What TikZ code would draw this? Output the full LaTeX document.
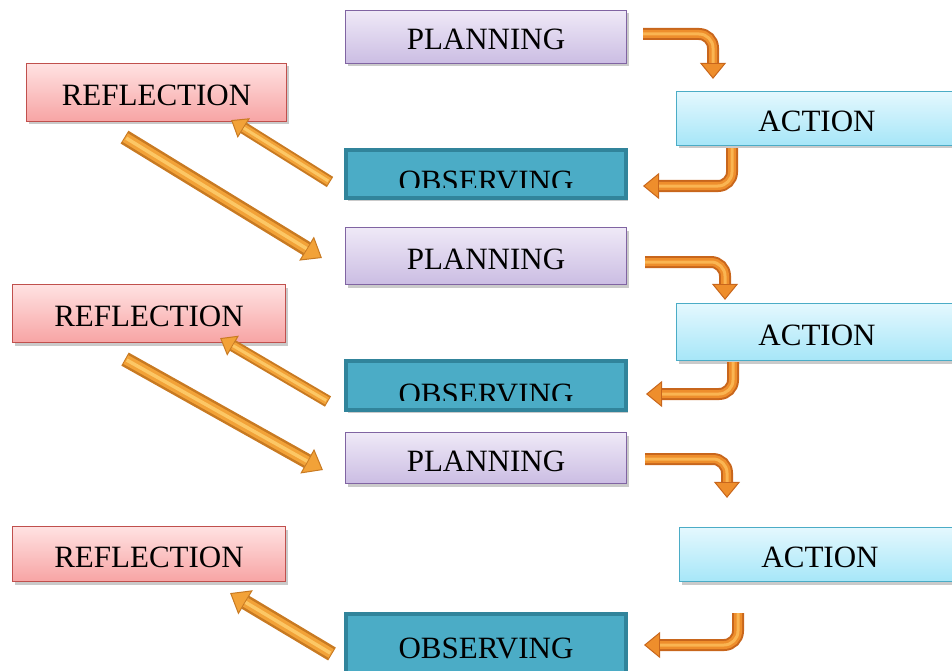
\documentclass[tikz,border=0pt]{standalone}
\usepackage{fontspec}
\setmainfont{Liberation Serif}
\usetikzlibrary{arrows.meta,shadows,calc}
\definecolor{plborder}{HTML}{8064A2}
\definecolor{pltop}{HTML}{EFE9F7}
\definecolor{plbot}{HTML}{CBBDE3}
\definecolor{rfborder}{HTML}{C0504D}
\definecolor{rftop}{HTML}{FFE2E2}
\definecolor{rfbot}{HTML}{F7A4A4}
\definecolor{acborder}{HTML}{4BACC6}
\definecolor{actop}{HTML}{E4F8FE}
\definecolor{acbot}{HTML}{A6E6F8}
\definecolor{obborder}{HTML}{31849B}
\definecolor{obfill}{HTML}{4BACC6}
\definecolor{arrdark}{HTML}{C8661C}
\definecolor{arrmid}{HTML}{EE8E2C}
\definecolor{arrlight}{HTML}{FAB552}
\definecolor{darrdark}{HTML}{C87A22}
\definecolor{darrmid}{HTML}{F2A238}
\definecolor{darrlight}{HTML}{FCC765}
\tikzset{
  boxtext/.style={font=\fontsize{31}{36}\selectfont, text=black, inner sep=0pt, text height=26pt, text depth=0pt},
  shadowed/.style={drop shadow={shadow xshift=2pt, shadow yshift=-3pt, opacity=0.35, fill=black!60}},
  pbox/.style={boxtext, shadowed, draw=plborder, line width=1.2pt, top color=pltop, bottom color=plbot, minimum width=281pt},
  rbox/.style={boxtext, shadowed, draw=rfborder, line width=1.2pt, top color=rftop, bottom color=rfbot},
  abox/.style={boxtext, shadowed, draw=acborder, line width=1.2pt, top color=actop, bottom color=acbot, minimum width=281pt},
  obox/.style={boxtext, shadowed, draw=obborder, line width=4pt, fill=obfill, minimum width=280pt},
  bentarr/.style={draw=arrdark, line width=12pt, rounded corners=14pt,
    -{Triangle[width=26pt,length=16pt,line width=1pt,fill=arrmid]},
    postaction={draw=arrmid, line width=8pt, -, shorten >=16pt, rounded corners=14pt},
    postaction={draw=arrlight, line width=3pt, -, shorten >=16pt, rounded corners=14pt}},
  diagarr/.style={draw=darrdark, line width=15pt,
    -{Triangle[width=28pt,length=18pt,line width=1pt,fill=darrmid]},
    postaction={draw=darrmid, line width=10pt, -, shorten >=18pt, shorten <=1pt},
    postaction={draw=darrlight, line width=3.5pt, -, shorten >=18pt, shorten <=2pt}},
  backarr/.style={draw=darrdark, line width=12pt,
    -{Triangle[width=23pt,length=15pt,line width=1pt,fill=darrmid]},
    postaction={draw=darrmid, line width=8pt, -, shorten >=15pt, shorten <=1pt},
    postaction={draw=darrlight, line width=3pt, -, shorten >=15pt, shorten <=2pt}}
}
\begin{document}
\begin{tikzpicture}[x=1pt,y=-1pt]
\useasboundingbox (0,0) rectangle (952,671);
% cycle 1
\node[pbox, minimum height=53pt] (p1) at (486,37) {PLANNING};
\node[abox, minimum height=54pt] (a1) at (817,118.5) {ACTION};
\node[obox, minimum height=48pt] (o1) at (486,174) {};
\node[rbox, minimum width=260pt, minimum height=58pt] (r1) at (156.5,92.5) {REFLECTION};
\begin{scope}
  \clip (344,150) rectangle (628,187);
  \node[font=\fontsize{31}{36}\selectfont, inner sep=0pt, anchor=base] (o1t) at (486,191) {OBSERVING};
\end{scope}
% cycle 2
\node[pbox, minimum height=57pt] (p2) at (486,256) {PLANNING};
\node[rbox, minimum width=273pt, minimum height=58pt] (r2) at (149,313.5) {REFLECTION};
\node[abox, minimum height=57pt] (a2) at (817,332) {ACTION};
\node[obox, minimum height=49pt] (o2) at (486,385.5) {};
\begin{scope}
  \clip (344,360) rectangle (628,400);
  \node[font=\fontsize{31}{36}\selectfont, inner sep=0pt, anchor=base] (o2t) at (486,404) {OBSERVING};
\end{scope}
% cycle 3
\node[pbox, minimum height=51pt] (p3) at (486,458) {PLANNING};
\node[rbox, minimum width=273pt, minimum height=55pt] (r3) at (149,554) {REFLECTION};
\node[abox, minimum height=54pt] (a3) at (820,554.5) {ACTION};
\node[obox, minimum height=62pt] (o3) at (486,645) {OBSERVING};
% bent arrows
\draw[bentarr] ($(p1.east)+(16,-3)$) -| ($(a1.north)+(-104,-12)$);
\draw[bentarr] ($(a1.south)+(-85,2)$) |- ($(o1.east)+(15,12)$);
\draw[bentarr] ($(p2.east)+(18,6)$) -| ($(a2.north)+(-92,-3)$);
\draw[bentarr] ($(a2.south)+(-84,1)$) |- ($(o2.east)+(18,8.5)$);
\draw[bentarr] ($(p3.east)+(18,1)$) -| ($(a3.north)+(-93,-29)$);
\draw[bentarr] ($(a3.south)+(-82,31)$) |- ($(o3.east)+(16,0)$);
% diagonal arrows
\draw[backarr] ($(o1.west)+(-14,8)$) -- ($(r1.south east)+(-56,-2)$);
\draw[diagarr] ($(r1.south)+(-32,15)$) -- ($(p2.west)+(-23,2)$);
\draw[backarr] ($(o2.west)+(-16,16)$) -- ($(r2.south east)+(-66,-5)$);
\draw[diagarr] ($(r2.south)+(-24,16)$) -- ($(p3.west)+(-22,12)$);
\draw[diagarr] ($(o3.west)+(-12,9)$) -- ($(r3.south east)+(-56,11)$);
\end{tikzpicture}
\end{document}
